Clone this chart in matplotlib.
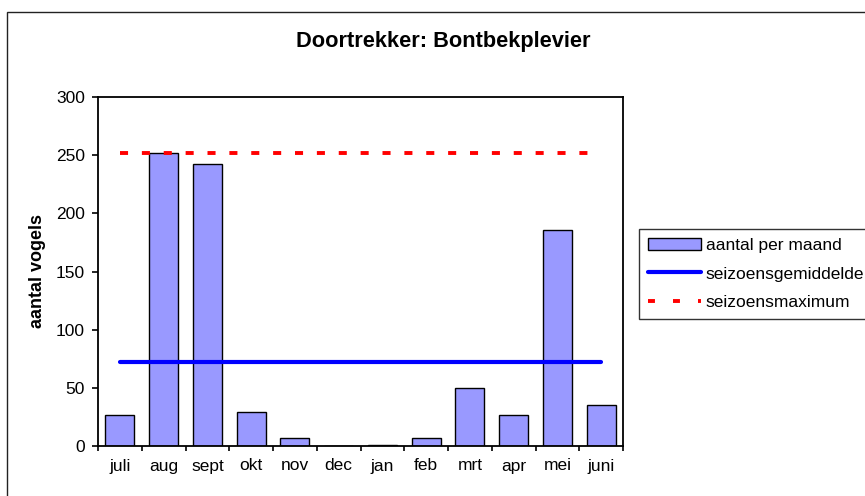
import numpy as np
import matplotlib
matplotlib.use("Agg")
import matplotlib.pyplot as plt
from matplotlib.lines import Line2D
from matplotlib.patches import Rectangle

# --- Data ---
maanden = ["juli", "aug", "sept", "okt", "nov", "dec", "jan", "feb", "mrt", "apr", "mei", "juni"]
aantal_per_maand = [27, 252, 242, 29, 7, 0, 1, 7, 50, 27, 186, 35]
seizoensgemiddelde = 72
seizoensmaximum = 252
yticks = [0, 50, 100, 150, 200, 250, 300]

TITLE = "Doortrekker: Bontbekplevier"
YLABEL = "aantal vogels"
LEGEND_LABELS = ["aantal per maand", "seizoensgemiddelde", "seizoensmaximum"]

plt.rcParams["font.family"] = ["Liberation Sans", "DejaVu Sans"]
plt.rcParams["lines.scale_dashes"] = False

W, H = 865, 496
fig = plt.figure(figsize=(W / 100, H / 100), dpi=100)
fig.patch.set_facecolor("white")

# plot area in pixel coordinates
left, right, top, bottom = 98, 623, 97, 446
ax = fig.add_axes([left / W, 1 - bottom / H, (right - left) / W, (bottom - top) / H])

x = np.arange(len(maanden))
bars = ax.bar(x, aantal_per_maand, width=0.667, color="#9999FF",
              edgecolor="black", linewidth=1.0, zorder=2)

gem_line, = ax.plot(x, np.full(len(x), seizoensgemiddelde), color="#0000FF",
                    lw=3.0, solid_capstyle="round", zorder=3)
ax.plot(x, np.full(len(x), seizoensmaximum), color="#FF0000", lw=2.8,
        dashes=(5.8, 9.95), dash_capstyle="butt", zorder=3)

ax.set_xlim(-0.5, len(maanden) - 0.5)
ax.set_ylim(yticks[0], yticks[-1])
ax.set_yticks(yticks)
ax.set_xticks(x)
ax.set_xticklabels(maanden)
ax.set_xticks(np.arange(-0.5, len(maanden), 1), minor=True)

ax.tick_params(axis="x", which="major", length=0, pad=9, labelsize=12.5)
ax.tick_params(axis="x", which="minor", length=3.8, width=1.2, direction="out")
ax.tick_params(axis="y", length=4.3, width=1.2, direction="out", pad=5, labelsize=12.5)

for sp in ax.spines.values():
    sp.set_linewidth(1.3)
    sp.set_color("black")

ax.set_ylabel(YLABEL, fontsize=13, fontweight="bold")
ax.yaxis.set_label_coords((46 - left) / (right - left), 0.5)

fig.text(443 / W, 1 - 42 / H, TITLE, ha="center", va="center",
         fontsize=15.7, fontweight="bold")

# outer chart border (right and bottom fall outside the image)
fig.add_artist(Rectangle((7 / W, -0.1), 1.2, (1 - 12 / H) + 0.1,
                         transform=fig.transFigure, fill=False,
                         edgecolor="#222222", linewidth=1.0))

# legend
max_proxy = Line2D([], [], color="#FF0000", lw=2.8, dashes=(5.0, 13.0),
                   dash_capstyle="butt")
leg = fig.legend([bars, gem_line, max_proxy], LEGEND_LABELS,
                 loc="upper left", bbox_to_anchor=(639 / W, 1 - 229 / H),
                 fontsize=12.5, frameon=True, fancybox=False, shadow=False,
                 handlelength=3.05, handletextpad=0.3, borderpad=0.5,
                 labelspacing=0.78, borderaxespad=0)
leg.get_frame().set_edgecolor("black")
leg.get_frame().set_linewidth(1.0)

fig.savefig("out.png", dpi=100)
